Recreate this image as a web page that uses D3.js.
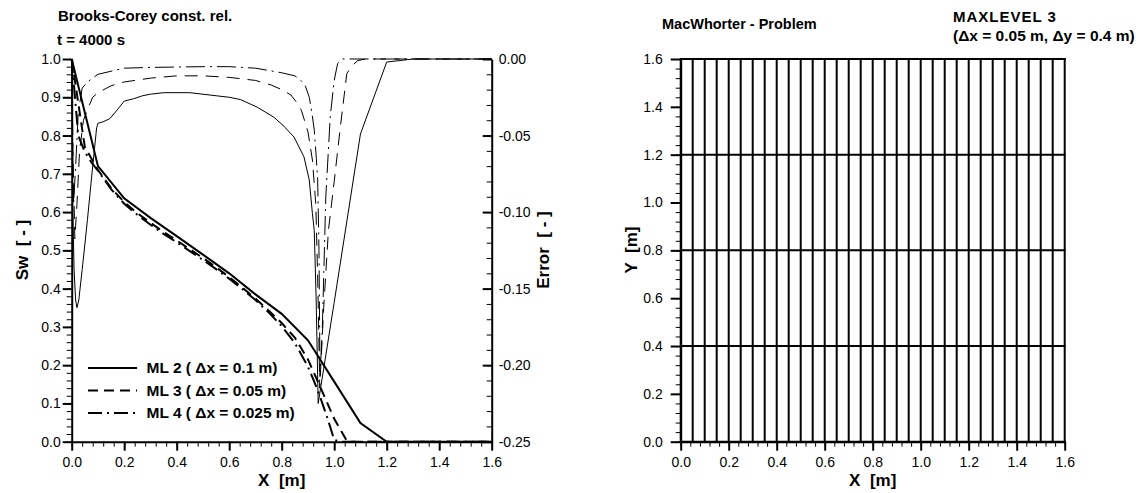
<!DOCTYPE html>
<html>
<head>
<meta charset="utf-8">
<script src="https://cdn.jsdelivr.net/npm/d3@7"></script>
<style>
  body { margin: 0; background: #fff; }
  svg { display: block; font-family: "Liberation Sans", Arial, sans-serif; }
  text { white-space: pre; }
</style>
</head>
<body>
<div id="chart"></div>
<script>
const WIDTH = 1138;
const HEIGHT = 493;

// saturation profiles, [x, Sw]
const swML2 = [[0, 1.0], [0.1, 0.72], [0.2, 0.636], [0.3, 0.585], [0.4, 0.537], [0.5, 0.489], [0.6, 0.44],
  [0.7, 0.385], [0.8, 0.334], [0.9, 0.265], [1.0, 0.157], [1.1, 0.049], [1.2, 0], [1.6, 0]];
const swML3 = [[0, 1.0], [0.05, 0.77], [0.1, 0.71], [0.15, 0.663], [0.2, 0.626], [0.25, 0.597], [0.3, 0.572],
  [0.35, 0.548], [0.4, 0.526], [0.45, 0.503], [0.5, 0.48], [0.55, 0.456], [0.6, 0.43], [0.65, 0.403],
  [0.7, 0.374], [0.75, 0.343], [0.8, 0.31], [0.85, 0.272], [0.9, 0.215], [0.95, 0.138], [1.0, 0.06],
  [1.05, 0], [1.6, 0]];
const swML4 = [[0, 1.0], [0.025, 0.8], [0.05, 0.757], [0.075, 0.73], [0.1, 0.708], [0.15, 0.66], [0.2, 0.622],
  [0.25, 0.593], [0.3, 0.567], [0.35, 0.543], [0.4, 0.521], [0.45, 0.498], [0.5, 0.475], [0.55, 0.451],
  [0.6, 0.426], [0.65, 0.399], [0.7, 0.37], [0.75, 0.338], [0.8, 0.302], [0.85, 0.258], [0.9, 0.196],
  [0.925, 0.155], [0.95, 0.11], [0.975, 0.06], [1.0, 0.005], [1.025, 0], [1.6, 0]];

// error against reference, [x, error]
const errML2 = [[0, 0], [0.004, -0.095], [0.009, -0.1375], [0.015, -0.1575], [0.02, -0.1625], [0.027, -0.1575],
  [0.04, -0.1375], [0.06, -0.105], [0.08, -0.07], [0.095, -0.045], [0.1, -0.042], [0.12, -0.041],
  [0.145, -0.039], [0.17, -0.034], [0.2, -0.0275], [0.235, -0.026], [0.27, -0.024], [0.3, -0.023],
  [0.35, -0.022], [0.45, -0.022], [0.55, -0.024], [0.6, -0.025], [0.643, -0.0265], [0.707, -0.0315],
  [0.77, -0.038], [0.809, -0.044], [0.847, -0.051], [0.885, -0.064], [0.905, -0.079], [0.917, -0.101],
  [0.924, -0.112], [0.931, -0.155], [0.939, -0.225], [1.0, -0.159], [1.1, -0.049], [1.2, -0.002],
  [1.3, 0], [1.6, 0]];
const errML3 = [[0, 0], [0.005, -0.0625], [0.012, -0.1175], [0.02, -0.095], [0.03, -0.06], [0.045, -0.04],
  [0.06, -0.033], [0.08, -0.025], [0.1, -0.022], [0.15, -0.0175], [0.2, -0.015], [0.3, -0.0125],
  [0.4, -0.011], [0.5, -0.011], [0.6, -0.012], [0.7, -0.014], [0.76, -0.017], [0.8, -0.02],
  [0.835, -0.0235], [0.86, -0.029], [0.875, -0.0335], [0.9, -0.0475], [0.917, -0.066], [0.93, -0.095],
  [0.938, -0.15], [0.945, -0.215], [0.96, -0.1625], [0.978, -0.112], [1.0, -0.08], [1.022, -0.0465],
  [1.048, -0.0095], [1.07, -0.004], [1.09, -0.001], [1.12, 0], [1.6, 0]];
const errML4 = [[0, 0], [0.003, -0.05], [0.007, -0.095], [0.015, -0.07], [0.025, -0.035], [0.04, -0.019],
  [0.06, -0.015], [0.1, -0.01], [0.15, -0.008], [0.2, -0.006], [0.3, -0.0055], [0.5, -0.005],
  [0.6, -0.005], [0.7, -0.006], [0.8, -0.009], [0.85, -0.011], [0.873, -0.014], [0.89, -0.0175],
  [0.905, -0.025], [0.915, -0.035], [0.924, -0.0465], [0.932, -0.065], [0.937, -0.079], [0.942, -0.125],
  [0.946, -0.2075], [0.955, -0.175], [0.968, -0.09], [0.985, -0.0375], [1.0, -0.014], [1.013, -0.003],
  [1.03, 0], [1.6, 0]];

const legendLabels = ["ML 2 ( \u0394x = 0.1 m)", "ML 3 ( \u0394x = 0.05 m)", "ML 4 ( \u0394x = 0.025 m)"];

const xTicks = [0, 0.2, 0.4, 0.6, 0.8, 1.0, 1.2, 1.4, 1.6];
const swTicks = [0, 0.1, 0.2, 0.3, 0.4, 0.5, 0.6, 0.7, 0.8, 0.9, 1.0];
const errTicks = [-0.25, -0.2, -0.15, -0.1, -0.05, 0];
const yTicks = [0, 0.2, 0.4, 0.6, 0.8, 1.0, 1.2, 1.4, 1.6];

// MacWhorter mesh lines
const meshX = [0, 0.05, 0.1, 0.15, 0.2, 0.25, 0.3, 0.35, 0.4, 0.45, 0.5, 0.55, 0.6, 0.65, 0.7, 0.75, 0.8,
  0.85, 0.9, 0.95, 1.0, 1.05, 1.1, 1.15, 1.2, 1.25, 1.3, 1.35, 1.4, 1.45, 1.5, 1.55, 1.6];
const meshY = [0, 0.4, 0.8, 1.2, 1.6];

////////////////////////////////////////////////////////////////////////////////////

const svg = d3.select("#chart").append("svg").attr("width", WIDTH).attr("height", HEIGHT);
svg.append("rect").attr("width", WIDTH).attr("height", HEIGHT).attr("fill", "#fff");

const TOP = 59, BOTTOM = 441.7;
const xL = d3.scaleLinear().domain([0, 1.6]).range([71.7, 491.7]);
const yL = d3.scaleLinear().domain([0, 1]).range([BOTTOM, TOP]);
const yE = d3.scaleLinear().domain([-0.25, 0]).range([BOTTOM, TOP]);
const xR = d3.scaleLinear().domain([0, 1.6]).range([680.7, 1064.7]);
const yR = d3.scaleLinear().domain([0, 1.6]).range([BOTTOM, TOP]);

const minorX = d3.range(41).map((i) => i * 0.04);
const minorSw = d3.range(51).map((i) => i * 0.02);
const minorErr = d3.range(26).map((i) => -0.25 + i * 0.01);

function addAxis(axisFn, scale, tx, ty, major, minor, fmt, size, pad) {
  const sign = size < 0 ? -1 : 1;
  const gMinor = svg
    .append("g")
    .attr("transform", `translate(${tx},${ty})`)
    .call(axisFn(scale).tickValues(minor).tickSize(sign * 5).tickFormat(""));
  gMinor.select(".domain").remove();
  gMinor.selectAll("line").attr("stroke-width", 1).attr("stroke", "#000");

  const g = svg
    .append("g")
    .attr("transform", `translate(${tx},${ty})`)
    .call(axisFn(scale).tickValues(major).tickSize(size).tickSizeOuter(0).tickPadding(pad).tickFormat(fmt));
  g.select(".domain").attr("stroke-width", 2).attr("stroke", "#000");
  g.selectAll("line").attr("stroke-width", 2).attr("stroke", "#000");
  g.selectAll("text").attr("font-size", 14).attr("fill", "#000");
  g.attr("font-family", null).attr("font-size", null);
  return g;
}

const f1 = (d) => d.toFixed(1);
const f2 = (d) => d.toFixed(2);

// --- left panel: curves
const lineSw = d3.line().x((d) => xL(d[0])).y((d) => yL(d[1]));
const lineErr = d3.line().x((d) => xL(d[0])).y((d) => yE(d[1]));

const errSeries = [
  { data: errML2, dash: null },
  { data: errML3, dash: "13,8" },
  { data: errML4, dash: "19,5,2,5" },
];
const swSeries = [
  { data: swML2, dash: null },
  { data: swML3, dash: "10,6" },
  { data: swML4, dash: "14,5,2,5" },
];

svg
  .append("g")
  .selectAll("path")
  .data(errSeries)
  .enter()
  .append("path")
  .attr("d", (d) => lineErr(d.data))
  .attr("fill", "none")
  .attr("stroke", "#000")
  .attr("stroke-width", 1)
  .attr("stroke-dasharray", (d) => d.dash);

svg
  .append("g")
  .selectAll("path")
  .data(swSeries)
  .enter()
  .append("path")
  .attr("d", (d) => lineSw(d.data))
  .attr("fill", "none")
  .attr("stroke", "#000")
  .attr("stroke-width", 2)
  .attr("stroke-dasharray", (d) => d.dash);

// --- left panel: axes
addAxis(d3.axisBottom, xL, 0, BOTTOM, xTicks, minorX, f1, 9, 6);
addAxis(d3.axisLeft, yL, xL(0), 0, swTicks, minorSw, f1, 9, 2);
addAxis(d3.axisRight, yE, xL(1.6), 0, errTicks, minorErr, f2, -9, 7);

// legend
const legend = svg
  .append("g")
  .selectAll("g")
  .data(swSeries)
  .enter()
  .append("g")
  .attr("transform", (d, i) => `translate(88,${368 + i * 22.5})`);
legend
  .append("line")
  .attr("x1", 0)
  .attr("x2", 49)
  .attr("stroke", "#000")
  .attr("stroke-width", 2)
  .attr("stroke-dasharray", (d) => d.dash);
legend
  .append("text")
  .attr("x", 58.5)
  .attr("dy", "0.35em")
  .attr("font-size", 15.5)
  .attr("font-weight", "bold")
  .text((d, i) => legendLabels[i]);

// --- right panel: mesh
const mesh = svg.append("g").attr("stroke", "#000").attr("stroke-width", 2);
mesh
  .selectAll("line.v")
  .data(meshX)
  .enter()
  .append("line")
  .attr("class", "v")
  .attr("x1", (d) => xR(d))
  .attr("x2", (d) => xR(d))
  .attr("y1", yR(0))
  .attr("y2", yR(1.6) - 1);
mesh
  .selectAll("line.h")
  .data(meshY)
  .enter()
  .append("line")
  .attr("class", "h")
  .attr("x1", xR(0))
  .attr("x2", xR(1.6) + 1)
  .attr("y1", (d) => yR(d))
  .attr("y2", (d) => yR(d));

addAxis(d3.axisBottom, xR, 0, BOTTOM, xTicks, minorX, f1, 9, 6);
addAxis(d3.axisLeft, yR, xR(0), 0, yTicks, minorX, f1, 10, 8);

// --- titles and axis labels
const titles = [
  { t: "Brooks-Corey const. rel.", x: 58, y: 21, size: 15, ls: 0 },
  { t: "t = 4000 s", x: 57, y: 45, size: 15, ls: 0 },
  { t: "MacWhorter - Problem", x: 662, y: 29, size: 14.5, ls: 0 },
  { t: "MAXLEVEL 3", x: 953, y: 22, size: 15, ls: 1 },
  { t: "(\u0394x = 0.05 m, \u0394y = 0.4 m)", x: 953, y: 40.5, size: 15.5, ls: 0 },
];
svg
  .append("g")
  .selectAll("text")
  .data(titles)
  .enter()
  .append("text")
  .attr("x", (d) => d.x)
  .attr("y", (d) => d.y)
  .attr("font-size", (d) => d.size)
  .attr("letter-spacing", (d) => d.ls)
  .attr("font-weight", "bold")
  .text((d) => d.t);

const axisTitles = [
  { t: "X  [m]", x: 281.7, y: 486, r: 0 },
  { t: "X  [m]", x: 872.7, y: 486, r: 0 },
  { t: "Sw  [ - ]", x: 28, y: 250, r: -90 },
  { t: "Error  [ - ]", x: 549, y: 250, r: -90 },
  { t: "Y  [m]", x: 637, y: 250, r: -90 },
];
svg
  .append("g")
  .selectAll("text")
  .data(axisTitles)
  .enter()
  .append("text")
  .attr("transform", (d) => `translate(${d.x},${d.y})rotate(${d.r})`)
  .attr("text-anchor", "middle")
  .attr("font-size", 17)
  .attr("font-weight", "bold")
  .text((d) => d.t);
</script>
</body>
</html>
